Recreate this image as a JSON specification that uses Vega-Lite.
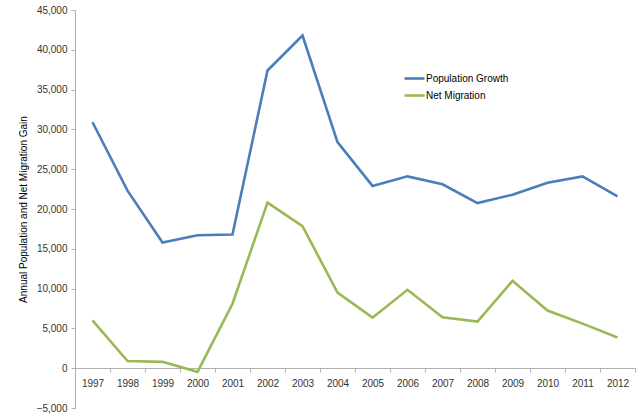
{
  "$schema": "https://vega.github.io/schema/vega-lite/v6.json",
  "autosize": "none",
  "width": 560,
  "height": 398,
  "padding": {"left": 75, "top": 10, "right": 5, "bottom": 10},
  "background": "white",
  "config": {
    "view": {"stroke": null},
    "font": "Liberation Sans",
    "axis": {
      "grid": false,
      "domainColor": "#b0b0b0",
      "tickColor": "#b0b0b0",
      "labelColor": "#333333",
      "labelFont": "Liberation Sans",
      "labelFontSize": 10,
      "tickSize": 4
    }
  },
  "data": {
    "values": [
      {"Year": "1997", "Series": "Population Growth", "Value": 30900},
      {"Year": "1998", "Series": "Population Growth", "Value": 22300},
      {"Year": "1999", "Series": "Population Growth", "Value": 15800},
      {"Year": "2000", "Series": "Population Growth", "Value": 16700},
      {"Year": "2001", "Series": "Population Growth", "Value": 16800},
      {"Year": "2002", "Series": "Population Growth", "Value": 37400},
      {"Year": "2003", "Series": "Population Growth", "Value": 41800},
      {"Year": "2004", "Series": "Population Growth", "Value": 28400},
      {"Year": "2005", "Series": "Population Growth", "Value": 22900},
      {"Year": "2006", "Series": "Population Growth", "Value": 24100},
      {"Year": "2007", "Series": "Population Growth", "Value": 23100},
      {"Year": "2008", "Series": "Population Growth", "Value": 20750},
      {"Year": "2009", "Series": "Population Growth", "Value": 21800},
      {"Year": "2010", "Series": "Population Growth", "Value": 23300},
      {"Year": "2011", "Series": "Population Growth", "Value": 24100},
      {"Year": "2012", "Series": "Population Growth", "Value": 21600},
      {"Year": "1997", "Series": "Net Migration", "Value": 6000},
      {"Year": "1998", "Series": "Net Migration", "Value": 900},
      {"Year": "1999", "Series": "Net Migration", "Value": 800},
      {"Year": "2000", "Series": "Net Migration", "Value": -460},
      {"Year": "2001", "Series": "Net Migration", "Value": 8100},
      {"Year": "2002", "Series": "Net Migration", "Value": 20800},
      {"Year": "2003", "Series": "Net Migration", "Value": 17850},
      {"Year": "2004", "Series": "Net Migration", "Value": 9500},
      {"Year": "2005", "Series": "Net Migration", "Value": 6350},
      {"Year": "2006", "Series": "Net Migration", "Value": 9850},
      {"Year": "2007", "Series": "Net Migration", "Value": 6400},
      {"Year": "2008", "Series": "Net Migration", "Value": 5850},
      {"Year": "2009", "Series": "Net Migration", "Value": 10970},
      {"Year": "2010", "Series": "Net Migration", "Value": 7250},
      {"Year": "2011", "Series": "Net Migration", "Value": 5600},
      {"Year": "2012", "Series": "Net Migration", "Value": 3850}
    ]
  },
  "mark": {"type": "line", "strokeWidth": 2.6},
  "encoding": {
    "x": {
      "field": "Year",
      "type": "ordinal",
      "bandPosition": 0.5,
      "scale": {"type": "band", "paddingInner": 0, "paddingOuter": 0},
      "axis": {
        "title": null,
        "labelAngle": 0,
        "offset": -40,
        "tickBand": "extent",
        "labelPadding": 6
      }
    },
    "y": {
      "field": "Value",
      "type": "quantitative",
      "scale": {"domain": [-5000, 45000], "nice": false},
      "axis": {
        "values": [-5000, 0, 5000, 10000, 15000, 20000, 25000, 30000, 35000, 40000, 45000],
        "format": ",d",
        "title": "Annual Population and Net Migration Gain",
        "titleFontSize": 10,
        "titleFontWeight": "normal",
        "titleColor": "#000000",
        "titleX": -52,
        "titleY": 199,
        "titleAngle": -90,
        "titleAlign": "center",
        "titleBaseline": "middle",
        "labelPadding": 4
      }
    },
    "color": {
      "field": "Series",
      "type": "nominal",
      "sort": ["Population Growth", "Net Migration"],
      "scale": {"domain": ["Population Growth", "Net Migration"], "range": ["#4A7EBB", "#98B954"]},
      "legend": {
        "title": null,
        "orient": "none",
        "legendX": 328,
        "legendY": 57,
        "symbolType": "stroke",
        "symbolStrokeWidth": 2.6,
        "symbolSize": 400,
        "labelFontSize": 10,
        "labelColor": "#000000",
        "labelOffset": 0,
        "rowPadding": 0
      }
    }
  }
}
